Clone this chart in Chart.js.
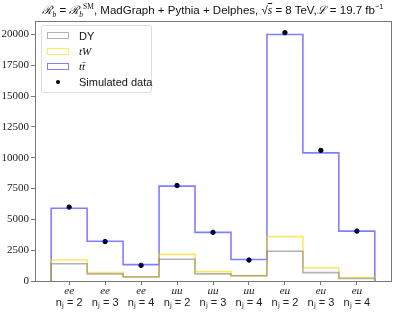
<!DOCTYPE html>
<html>
<head>
<meta charset="utf-8">
<script src="https://cdn.jsdelivr.net/npm/chart.js@4"></script>
<style>
  body { margin: 0; background: #fff; }
  #wrap { position: relative; width: 415px; height: 312px; }
  #title { position: absolute; left: 33px; top: 2px; width: 360px; text-align: center;
    font: 11.5px "Liberation Sans", sans-serif; color: #111; white-space: nowrap; }
  #title sub, #title sup { font-size: 7.5px; }
  #legend { position: absolute; left: 41px; top: 25px; width: 111px; height: 68px;
    border: 1px solid #ddd; border-radius: 3px; background: rgba(255,255,255,0.85);
    font: 11px "Liberation Sans", sans-serif; color: #111; box-sizing: border-box; padding: 2px 0 0 5px; }
  #legend div { height: 15.4px; display: flex; align-items: center; white-space: nowrap; }
  #legend .box { width: 22px; height: 7px; box-sizing: border-box; margin-right: 10px; flex: none; }
  #legend .dot { width: 22px; margin-right: 10px; display: flex; justify-content: center; flex: none; }
  #legend .dot span { width: 4px; height: 4px; border-radius: 2px; background: #000; }
  .m { font-family: "Liberation Serif", serif; font-style: italic; }
</style>
</head>
<body>
<div id="wrap">
  <canvas id="chart" width="415" height="312"></canvas>
  <div id="title"><span class="m">ℛ<sub>b</sub></span> = <span class="m">ℛ<sub>b</sub><sup style="font-style:normal">SM</sup></span>, MadGraph + Pythia + Delphes, √<span class="m" style="text-decoration:overline">s</span> = 8 TeV,<span class="m">ℒ</span> = 19.7 fb<sup>−1</sup></div>
  <div id="legend"></div>
</div>
<script>
// channel / jet multiplicity of each bin
const channels = ['ee', 'ee', 'ee', 'μμ', 'μμ', 'μμ', 'eμ', 'eμ', 'eμ']
const jets = ['nⱼ = 2', 'nⱼ = 3', 'nⱼ = 4', 'nⱼ = 2', 'nⱼ = 3', 'nⱼ = 4', 'nⱼ = 2', 'nⱼ = 3', 'nⱼ = 4']

// event counts per bin
const dy = [1400, 580, 350, 1760, 580, 430, 2420, 680, 200]
const tw = [1700, 690, 300, 2160, 760, 440, 3600, 1080, 280]
const ttbar = [5900, 3220, 1330, 7700, 3950, 1750, 20000, 10400, 4050]
const simData = [6000, 3200, 1270, 7750, 3950, 1700, 20150, 10600, 4050]

const yTicks = [0, 2500, 5000, 7500, 10000, 12500, 15000, 17500, 20000]

const colors = {
  dy: 'rgba(128, 128, 128, 0.6)',
  tw: 'rgba(255, 215, 0, 0.6)',
  tt: 'rgba(0, 0, 255, 0.5)'
}

// step histogram outline: start at 0 on the left edge, end at 0 on the right edge
function steps(values) {
  const pts = [{ x: 0, y: 0 }]
  values.forEach((v, i) => pts.push({ x: i, y: v }))
  pts.push({ x: values.length, y: values[values.length - 1] })
  pts.push({ x: values.length, y: 0 })
  return pts
}

function histDataset(label, values, color) {
  return {
    type: 'line',
    label,
    data: steps(values),
    stepped: 'before',
    borderColor: color,
    borderWidth: 1.6,
    pointRadius: 0,
    fill: false
  }
}

const frame = {
  id: 'frame',
  afterDraw(chart) {
    const { ctx, chartArea: a } = chart
    ctx.save()
    ctx.strokeStyle = '#777'
    ctx.lineWidth = 1
    ctx.strokeRect(a.left + 0.5, a.top + 0.5, a.right - a.left, a.bottom - a.top)
    ctx.restore()
  }
}

const binCenters = s => { s.ticks = channels.map((c, i) => ({ value: i + 0.5 })) }

const chart = new Chart('chart', {
  data: {
    datasets: [
      histDataset('DY', dy, colors.dy),
      histDataset('tW', tw, colors.tw),
      histDataset('tt̄', ttbar, colors.tt),
      {
        type: 'scatter',
        label: 'Simulated data',
        data: simData.map((v, i) => ({ x: i + 0.5, y: v })),
        backgroundColor: '#000',
        borderColor: '#000',
        pointRadius: 2.2
      }
    ]
  },
  options: {
    responsive: false,
    animation: false,
    layout: { padding: { top: 21, right: 24, left: 0, bottom: 0 } },
    plugins: { legend: { display: false }, tooltip: { enabled: false } },
    scales: {
      x: {
        type: 'linear',
        weight: 0,
        min: -0.45,
        max: 9.45,
        afterBuildTicks: binCenters,
        afterFit: s => { s.height = 13 },
        ticks: {
          autoSkip: false,
          maxRotation: 0,
          padding: 0,
          color: '#222',
          font: { family: 'Liberation Serif', size: 11, style: 'italic' },
          callback: (v, i) => channels[i]
        },
        grid: { display: true, drawOnChartArea: false, tickLength: 4, color: '#777' },
        border: { display: true, color: '#777' }
      },
      x2: {
        type: 'linear',
        position: 'bottom',
        weight: 1,
        min: -0.45,
        max: 9.45,
        afterBuildTicks: binCenters,
        afterFit: s => { s.height = 18 },
        ticks: {
          autoSkip: false,
          maxRotation: 0,
          padding: 2,
          color: '#222',
          font: { family: 'Liberation Sans', size: 11 },
          callback: (v, i) => jets[i]
        },
        grid: { display: false, drawTicks: false },
        border: { display: false }
      },
      y: {
        min: 0,
        max: 21100,
        afterBuildTicks: s => { s.ticks = yTicks.map(value => ({ value })) },
        afterFit: s => { s.width = 35 },
        ticks: {
          padding: 2,
          color: '#222',
          font: { family: 'Liberation Serif', size: 11 },
          callback: v => String(v)
        },
        grid: { display: true, drawOnChartArea: false, tickLength: 4, color: '#777' },
        border: { display: true, color: '#777' }
      }
    }
  },
  plugins: [frame]
})

// legend built from the datasets
const legend = document.getElementById('legend')
const legendNames = ['DY', '<span class="m">tW</span>', '<span class="m">tt̄</span>', 'Simulated data']
chart.data.datasets.forEach((ds, i) => {
  const row = document.createElement('div')
  if (ds.type === 'line') {
    row.innerHTML = `<span class="box" style="border:1.5px solid ${ds.borderColor}"></span>${legendNames[i]}`
  } else {
    row.innerHTML = `<span class="dot"><span></span></span>${legendNames[i]}`
  }
  legend.appendChild(row)
})
</script>
</body>
</html>
